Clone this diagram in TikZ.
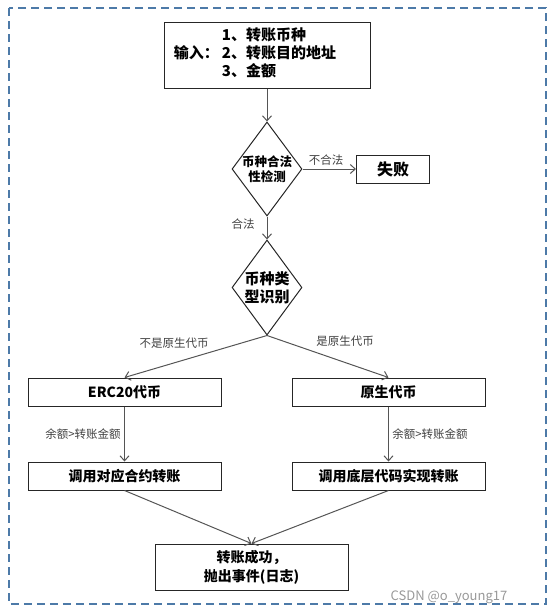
\documentclass[tikz,border=0pt]{standalone}
\usepackage{fontspec}
\setmainfont{Noto Sans CJK SC}
\usetikzlibrary{shapes.geometric, arrows.meta}
\definecolor{framebl}{HTML}{4D7AA8}
\definecolor{linegray}{HTML}{555555}
\tikzset{
  box/.style={draw=black!85, line width=1pt, fill=white, inner sep=0pt, align=center,
    font=\bfseries\fontsize{14}{19}\selectfont},
  check/.style={diamond, draw=black!85, line width=1pt, inner sep=-2pt, shape aspect=0.75,
    align=center, minimum width=70pt, minimum height=94pt},
  lbl/.style={font=\fontsize{11.5}{13}\selectfont, text=black!75, inner sep=0pt},
  flow/.style={draw=linegray, line width=1pt, -{Straight Barb[length=5pt,width=9pt]}},
}
\begin{document}
\begin{tikzpicture}[x=1pt, y=-1pt]
    \useasboundingbox (0,0) rectangle (554,614);
    % 外框
    \draw[framebl, line width=1.5pt, dash pattern=on 8pt off 5pt] (9,8) rectangle (546,604);

    % 输入与检测
    \node[box, minimum width=206pt, minimum height=66pt, font=\bfseries\fontsize{15}{17.5}\selectfont]
        (input) at (267,55)
        {输入：\hspace{3pt}\begin{tabular}{@{}l@{}}1、转账币种\\2、转账目的地址\\3、金额\end{tabular}\hspace*{24pt}};
    \node[check, font=\bfseries\fontsize{12.5}{15}\selectfont] (chk1) at (267,169) {币种合法\\性检测};
    \node[box, minimum width=73pt, minimum height=28pt, font=\bfseries\fontsize{16}{18}\selectfont]
        (fail) at (393,169) {失败};
    \node[check, minimum height=95pt, font=\bfseries\fontsize{15}{18}\selectfont] (chk2) at (267,287.5) {币种类\\型识别};

    % 两个分支
    \node[box, minimum width=193pt, minimum height=28pt] (erc) at (124.5,392) {ERC20代币};
    \node[box, minimum width=193pt, minimum height=28pt] (native) at (388.5,392) {原生代币};
    \node[box, minimum width=193pt, minimum height=28pt] (contract) at (124.5,476) {调用对应合约转账};
    \node[box, minimum width=193pt, minimum height=28pt] (lowlevel) at (388.5,476) {调用底层代码实现转账};
    \node[box, minimum width=193pt, minimum height=46pt] (done) at (251.5,567) {转账成功，\\抛出事件(日志)};

    % 连线
    \draw[flow] (input) -- (chk1);
    \draw[flow] (chk1) -- (fail);
    \draw[flow] (chk1) -- (chk2);
    \draw[flow] (chk2.south) -- (erc.north);
    \draw[flow] (chk2.south) -- (native.north);
    \draw[flow] (erc) -- (contract);
    \draw[flow] (native) -- (lowlevel);
    \draw[flow] (contract.south) -- (done.north);
    \draw[flow] (lowlevel.south) -- (done.north);

    % 连线上的文字
    \node[lbl] (illegal) at (326,160) {不合法};
    \node[lbl] (legal) at (243,224) {合法};
    \node[lbl] (notnative) at (174,343) {不是原生代币};
    \node[lbl] (isnative) at (345,341) {是原生代币};
    \node[lbl] (bal1) at (83,434) {余额>转账金额};
    \node[lbl] (bal2) at (430,434) {余额>转账金额};

    \node[font=\fontsize{13}{14}\selectfont, text=black!40, inner sep=0pt] (mark) at (449,597) {CSDN @o\_young17};
\end{tikzpicture}
\end{document}
